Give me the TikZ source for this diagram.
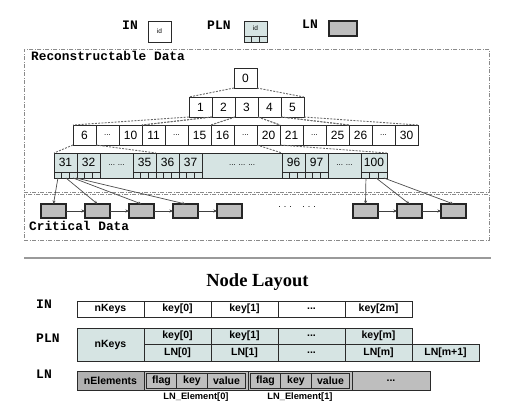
\documentclass[tikz,border=0pt]{standalone}
\usepackage{fontspec}
\setmainfont{Liberation Sans}
\setmonofont{Liberation Mono}
\newfontfamily\titlefont{Liberation Serif}
\usetikzlibrary{positioning,arrows.meta,calc}
\definecolor{plnfill}{HTML}{D6E4E3}
\definecolor{lngray}{HTML}{BEBEBE}
\definecolor{nelgray}{HTML}{B0B0B0}
\definecolor{edge1}{HTML}{2A2A2A}
\definecolor{dash1}{HTML}{6A6A6A}
\definecolor{region1}{HTML}{8A8A8A}
\definecolor{rule1}{HTML}{9A9A9A}

% three pointer slots under a PLN key
\newcommand{\ptrticks}[1]{%
  \draw[edge1, line width=0.6pt]
    ($(#1.north west)!1/3!(#1.north east)$) -- ($(#1.south west)!1/3!(#1.south east)$)
    ($(#1.north west)!2/3!(#1.north east)$) -- ($(#1.south west)!2/3!(#1.south east)$);}

\begin{document}
\begin{tikzpicture}[
    x=1pt, y=-1pt,
    >=Stealth,
    cell/.style={draw=edge1, fill=white, line width=0.6pt, minimum width=23pt,
                 minimum height=20pt, inner sep=0pt, outer sep=0pt,
                 font=\fontsize{12}{14}\selectfont},
    dotcell/.style={cell, font=\fontsize{8}{9}\selectfont},
    plncell/.style={cell, fill=plnfill, minimum height=19pt},
    plndots/.style={cell, fill=plnfill, minimum height=25pt,
                    font=\fontsize{8}{9}\selectfont},
    subrow/.style={draw=edge1, fill=plnfill, line width=0.6pt, minimum width=#1,
                   minimum height=6pt, inner sep=0pt, outer sep=0pt},
    lnbox/.style={draw=black!85, line width=1.3pt, fill=lngray,
                  minimum width=25pt, minimum height=14pt,
                  inner sep=0pt, outer sep=0pt},
    tagtext/.style={font=\ttfamily\bfseries\fontsize{13}{15}\selectfont,
                    inner sep=0pt, anchor=base west},
    region/.style={draw=region1, line width=0.9pt,
                   dash pattern=on 4pt off 1.5pt on 1pt off 1.5pt,
                   anchor=north west, inner sep=0pt},
    treeln/.style={draw=dash1, line width=0.9pt, dash pattern=on 2pt off 1.3pt},
    ptr/.style={->, >={Stealth[length=3.5pt,width=3pt]}, draw=black!70,
                line width=0.7pt},
    nextptr/.style={->, >={Stealth[length=3.5pt,width=3pt]}, draw=black!75,
                    line width=0.7pt},
    fld/.style={draw=edge1, fill=white, line width=0.6pt, minimum width=67pt,
                minimum height=16pt, inner sep=0pt, outer sep=0pt,
                font=\bfseries\fontsize{10.5}{12}\selectfont},
    elem/.style={draw=edge1, fill=lngray, line width=0.6pt, minimum width=104pt,
                 minimum height=19pt, inner sep=0pt, outer sep=0pt},
    efld/.style={fld, fill=lngray, minimum height=15pt},
    elabel/.style={font=\bfseries\fontsize{9.3}{11}\selectfont, inner sep=0pt},
]
\useasboundingbox (0,0) rectangle (524,408);

% ── legend ──
\node[tagtext] (lgin) at (122,29) {IN};
\node[cell, minimum height=21pt, anchor=north west,
      font=\fontsize{6.5}{7}\selectfont] (lgibox) at (148,21) {id};
\node[tagtext] (lgpln) at (207,29) {PLN};
\node[plncell, minimum height=15pt, anchor=north west,
      font=\fontsize{6.5}{7}\selectfont] (lgpbox) at (244,21) {id};
\node[subrow=23pt, below=0pt of lgpbox] (lgpsub) {};
\ptrticks{lgpsub}
\node[tagtext] (lgln) at (302,28) {LN};
\node[lnbox, minimum width=28pt, minimum height=15pt,
      anchor=north west] (lglbox) at (329,21) {};

% ── regions ──
\node[region, minimum width=465pt, minimum height=143pt] (recon) at (24,49) {};
\node[tagtext, font=\ttfamily\bfseries\fontsize{12.8}{15}\selectfont]
    at ([xshift=7pt,yshift=-11pt]recon.north west) {Reconstructable Data};
\node[region, minimum width=465pt, minimum height=46pt] (crit) at (24,194) {};
\node[tagtext, font=\ttfamily\bfseries\fontsize{12.8}{15}\selectfont]
    at ([xshift=5pt,yshift=10pt]crit.south west) {Critical Data};

% ── tree: root and inner levels ──
\node[cell] (n0) at (245.5,78) {0};

\node[cell] (n1) at (200.5,107) {1};
\node[cell, right=0pt of n1] (n2) {2};
\node[cell, right=0pt of n2] (n3) {3};
\node[cell, right=0pt of n3] (n4) {4};
\node[cell, right=0pt of n4] (n5) {5};

\node[cell] (n6) at (84.5,135) {6};
\node[dotcell, right=0pt of n6] (e1) {...};
\node[cell, right=0pt of e1] (n10) {10};
\node[cell, right=0pt of n10] (n11) {11};
\node[dotcell, right=0pt of n11] (e2) {...};
\node[cell, right=0pt of e2] (n15) {15};
\node[cell, right=0pt of n15] (n16) {16};
\node[dotcell, right=0pt of n16] (e3) {...};
\node[cell, right=0pt of e3] (n20) {20};
\node[cell, right=0pt of n20] (n21) {21};
\node[dotcell, right=0pt of n21] (e4) {...};
\node[cell, right=0pt of e4] (n25) {25};
\node[cell, right=0pt of n25] (n26) {26};
\node[dotcell, right=0pt of n26] (e5) {...};
\node[cell, right=0pt of e5] (n30) {30};

% ── tree: PLN level ──
\node[plncell, anchor=north west] (c31) at (54,153) {31};
\node[plncell, right=0pt of c31] (c32) {32};
\node[plndots, minimum width=33pt, right=0pt of c32.north east,
      anchor=north west] (p1) {... ...};
\node[plncell, right=0pt of p1.north east, anchor=north west] (c35) {35};
\node[plncell, right=0pt of c35] (c36) {36};
\node[plncell, right=0pt of c36] (c37) {37};
\node[plndots, minimum width=80pt, right=0pt of c37.north east,
      anchor=north west] (p2) {... ... ...};
\node[plncell, right=0pt of p2.north east, anchor=north west] (c96) {96};
\node[plncell, right=0pt of c96] (c97) {97};
\node[plndots, minimum width=33pt, right=0pt of c97.north east,
      anchor=north west] (p3) {... ...};
\node[plncell, minimum width=26pt, right=0pt of p3.north east,
      anchor=north west] (c100) {100};

\node[subrow=23pt, below=0pt of c31] (s31) {};
\node[subrow=23pt, below=0pt of c32] (s32) {};
\node[subrow=23pt, below=0pt of c35] (s35) {};
\node[subrow=23pt, below=0pt of c36] (s36) {};
\node[subrow=23pt, below=0pt of c37] (s37) {};
\node[subrow=23pt, below=0pt of c96] (s96) {};
\node[subrow=23pt, below=0pt of c97] (s97) {};
\node[subrow=26pt, below=0pt of c100] (s100) {};
\ptrticks{s31}\ptrticks{s32}\ptrticks{s35}\ptrticks{s36}
\ptrticks{s37}\ptrticks{s96}\ptrticks{s97}\ptrticks{s100}

% ── tree edges ──
\draw[treeln] (n0.south west) -- (n1.north west) (n0.south east) -- (n5.north east);
\draw[treeln] (n1.south west) -- (n6.north west) (n1.south east) -- (n10.north east);
\draw[treeln] (n2.south west) -- (n11.north west) (n2.south east) -- (n15.north east);
\draw[treeln] (n3.south west) -- (n16.north west) (n3.south east) -- (n20.north east);
\draw[treeln] (n4.south west) -- (n21.north west) (n4.south east) -- (n25.north east);
\draw[treeln] (n5.south west) -- (n26.north west) (n5.south east) -- (n30.north east);
\draw[treeln] (n6.south west) -- (c31.north west) (n6.south east) -- (c35.north east);
\draw[treeln] (n20.south west) -- (c96.north west) (n20.south east) -- (c100.north east);

% ── leaf nodes ──
\node[lnbox] (ln1) at (53.5,211) {};
\node[lnbox, right=19pt of ln1] (ln2) {};
\node[lnbox, right=19pt of ln2] (ln3) {};
\node[lnbox, right=19pt of ln3] (ln4) {};
\node[lnbox, right=19pt of ln4] (ln5) {};
\node[font=\fontsize{9}{10}\selectfont] (lndots) at (297,207) {.\,\,.\,\,.\quad\,.\,\,.\,\,.};
\node[lnbox] (ln6) at (365.5,211) {};
\node[lnbox, right=19pt of ln6] (ln7) {};
\node[lnbox, right=19pt of ln7] (ln8) {};

\draw[nextptr] (ln1) -- (ln2);
\draw[nextptr] (ln2) -- (ln3);
\draw[nextptr] (ln3) -- (ln4);
\draw[nextptr] (ln4) -- (ln5);
\draw[nextptr] (ln6) -- (ln7);
\draw[nextptr] (ln7) -- (ln8);

% ── PLN to LN pointers ──
\draw[ptr] ($(s31.south west)!.17!(s31.south east)$) -- (ln1.north);
\draw[ptr] ($(s31.south west)!.52!(s31.south east)$) -- (ln2.north);
\draw[ptr] ($(s31.south west)!.83!(s31.south east)$) -- (ln3.north);
\draw[ptr] ($(s31.south west)!.96!(s31.south east)$) -- (ln4.north);
\draw[ptr] ($(s100.south west)!.19!(s100.south east)$) -- (ln6.north);
\draw[ptr] ($(s100.south west)!.58!(s100.south east)$) -- (ln7.north);
\draw[ptr] ($(s100.south west)!.88!(s100.south east)$) -- (ln8.north);

% ── separator ──
\draw[rule1, line width=1.6pt] (24,258) -- (491,258);

% ── node layout ──
\node[font=\titlefont\bfseries\fontsize{18.5}{20}\selectfont, inner sep=0pt,
      anchor=base] (layout) at (257.5,286) {Node Layout};

\node[tagtext] (layin) at (36,308) {IN};
\node[fld, anchor=north west] (ink) at (77,301) {nKeys};
\node[fld, right=0pt of ink] (ik0) {key[0]};
\node[fld, right=0pt of ik0] (ik1) {key[1]};
\node[fld, right=0pt of ik1] (ikd) {...};
\node[fld, right=0pt of ikd] (ik2m) {key[2m]};

\node[tagtext] (laypln) at (36,342) {PLN};
\node[fld, fill=plnfill, minimum height=33pt, anchor=north west] (pnk) at (77,328) {nKeys};
\node[fld, fill=plnfill, right=0pt of pnk.north east, anchor=north west] (pk0) {key[0]};
\node[fld, fill=plnfill, minimum height=17pt, below=0pt of pk0] (pl0) {LN[0]};
\node[fld, fill=plnfill, right=0pt of pk0] (pk1) {key[1]};
\node[fld, fill=plnfill, minimum height=17pt, below=0pt of pk1] (pl1) {LN[1]};
\node[fld, fill=plnfill, right=0pt of pk1] (pkd) {...};
\node[fld, fill=plnfill, minimum height=17pt, below=0pt of pkd] (pld) {...};
\node[fld, fill=plnfill, right=0pt of pkd] (pkm) {key[m]};
\node[fld, fill=plnfill, minimum height=17pt, below=0pt of pkm] (plm) {LN[m]};
\node[fld, fill=plnfill, minimum height=17pt, right=0pt of plm] (plm1) {LN[m+1]};

\node[tagtext] (layln) at (36,378) {LN};
\node[fld, fill=nelgray, line width=1pt, minimum height=19pt,
      anchor=north west] (lne) at (77,371) {nElements};
\node[elem, right=0pt of lne] (eg0) {};
\node[efld, minimum width=30pt, anchor=west] (ef0) at ([xshift=2.5pt]eg0.west) {flag};
\node[efld, minimum width=31pt, right=0pt of ef0] (ek0) {key};
\node[efld, minimum width=38pt, right=0pt of ek0] (ev0) {value};
\node[elem, right=0pt of eg0] (eg1) {};
\node[efld, minimum width=30pt, anchor=west] (ef1) at ([xshift=2.5pt]eg1.west) {flag};
\node[efld, minimum width=31pt, right=0pt of ef1] (ek1) {key};
\node[efld, minimum width=38pt, right=0pt of ek1] (ev1) {value};
\node[fld, fill=lngray, minimum width=78pt, minimum height=19pt,
      right=0pt of eg1] (lnd) {...};

\node[elabel, below=3pt of eg0] (el0) {LN\_Element[0]};
\node[elabel, below=3pt of eg1] (el1) {LN\_Element[1]};

\end{tikzpicture}
\end{document}
